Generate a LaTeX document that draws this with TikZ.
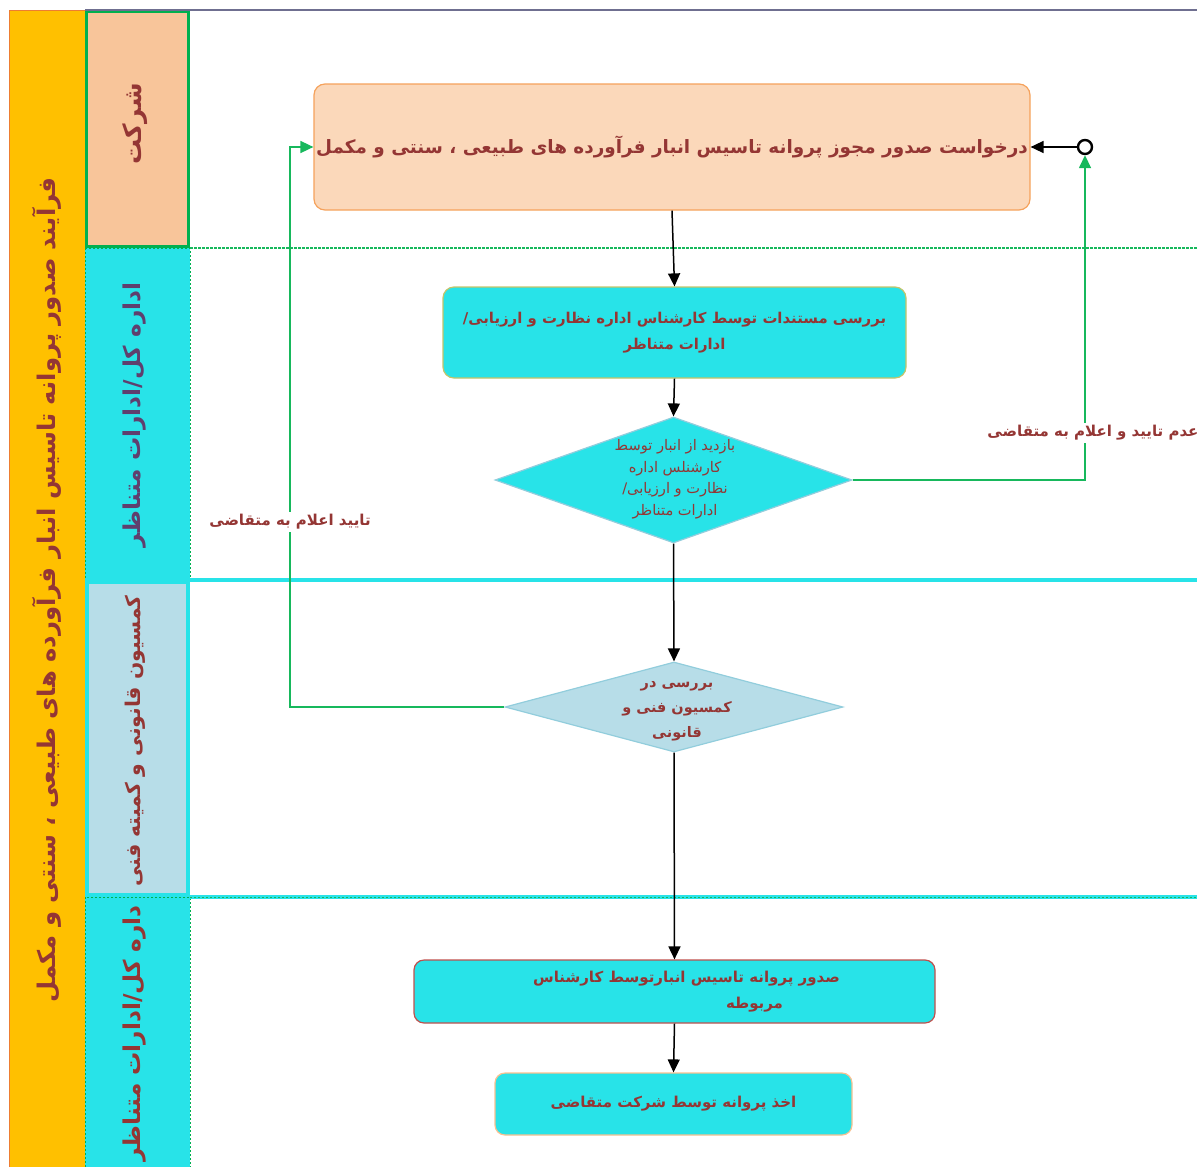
\documentclass[tikz,border=0pt]{standalone}
\usepackage{fontspec}
\usetikzlibrary{arrows.meta,shapes.geometric}
\TeXXeTstate=1
\newfontfamily\arabicfont[Script=Arabic]{DejaVu Sans}
\newcommand\fa[1]{{\arabicfont\beginR #1\endR}}
\definecolor{txtred}{HTML}{943634}
\definecolor{lanepurple}{HTML}{5F3F6E}
\definecolor{cyanf}{HTML}{28E3E8}
\definecolor{yel}{HTML}{FFC000}
\definecolor{orangeb}{HTML}{ED7D31}
\definecolor{peachlane}{HTML}{F8C59A}
\definecolor{peachbox}{HTML}{FBD8BA}
\definecolor{peachborder}{HTML}{F5A25C}
\definecolor{lblue}{HTML}{B7DDE8}
\definecolor{lblueb}{HTML}{92CDDC}
\definecolor{grnlane}{HTML}{00B050}
\definecolor{grnline}{HTML}{17B85C}
\definecolor{topline}{HTML}{6F6F90}
\definecolor{oliveb}{HTML}{C4C46A}
\definecolor{redb}{HTML}{C0504D}
\definecolor{lorange}{HTML}{FAC090}
\tikzset{
  blk/.style={draw=black, line width=1.5pt, -{Triangle[width=12pt,length=13pt]}},
  grn/.style={draw=grnline, line width=1.6pt, -{Triangle[width=12pt,length=13pt]}},
  proc/.style={rectangle, rounded corners=11pt, line width=1.2pt, inner sep=0pt, text=txtred, align=center},
  dec/.style={diamond, line width=1.2pt, inner sep=0pt},
  dectext/.style={inner sep=0pt, text=txtred, align=center},
  lanelbl/.style={rotate=90, inner sep=0pt},
  lbl/.style={fill=white, inner sep=2pt, text=txtred, font=\arabicfont\bfseries\fontsize{15pt}{18pt}\selectfont}
}
\begin{document}
\begin{tikzpicture}[x=1pt,y=-1pt]
\useasboundingbox (0,0) rectangle (1197,1167);
\begin{scope}
\clip (0,0) rectangle (1197,1167);
% outer pool column
\fill[yel] (9,10) rectangle (85,1167);
\draw[orangeb, line width=1pt] (9,1167) -- (9,10) -- (85,10);
% lanes
\fill[peachlane] (85,10) rectangle (190,248);
\fill[cyanf] (85,248) rectangle (190,580);
\fill[lblue] (85,580) rectangle (190,897);
\fill[cyanf] (85,897) rectangle (190,1167);
\draw[grnlane, line width=0.9pt, dash pattern=on 2pt off 2pt] (85,248) rectangle (190,580);
\draw[grnlane, line width=0.9pt, dash pattern=on 2pt off 2pt] (85,897) rectangle (190,1170);
\draw[cyanf, line width=4pt] (87,582) rectangle (188,895);
\draw[grnlane, line width=3.2pt] (86.6,11.6) rectangle (188.4,246.4);
% swimlane separators
\draw[topline, line width=2pt] (85,10) -- (1197,10);
\draw[grnline, line width=1.4pt, dash pattern=on 3pt off 1pt] (190,248) -- (1197,248);
\draw[cyanf, line width=4pt] (190,580) -- (1197,580);
\draw[cyanf, line width=4pt] (190,897) -- (1197,897);
\draw[grnline, line width=1pt, dash pattern=on 2pt off 2pt] (190,897) -- (1197,897);
% lane labels
\node[lanelbl, text=txtred, font=\arabicfont\bfseries\fontsize{24.3pt}{28pt}\selectfont] (pool) at (47,590) {\fa{فرآیند صدور پروانه تاسیس انبار فرآورده های طبیعی ، سنتی و مکمل}};
\node[lanelbl, text=txtred, font=\arabicfont\bfseries\fontsize{25pt}{29pt}\selectfont] (lane1) at (135,124) {\fa{شرکت}};
\node[lanelbl, text=lanepurple, font=\arabicfont\bfseries\fontsize{23.2pt}{27pt}\selectfont] (lane2) at (135,415) {\fa{اداره کل/ادارات متناظر}};
\node[lanelbl, text=txtred, font=\arabicfont\bfseries\fontsize{20.3pt}{24pt}\selectfont] (lane3) at (135,741) {\fa{کمسیون قانونی و کمیته فنی}};
\node[lanelbl, text=txtred, anchor=east, font=\arabicfont\bfseries\fontsize{23.2pt}{27pt}\selectfont] (lane4) at (135,905) {\fa{داره کل/ادارات متناظر}};
% process nodes
\node[proc, fill=peachbox, draw=peachborder, minimum width=716pt, minimum height=126pt,
  font=\arabicfont\bfseries\fontsize{18.4pt}{22pt}\selectfont] (n1) at (672,147)
  {\fa{درخواست صدور مجوز پروانه تاسیس انبار فرآورده های طبیعی ، سنتی و مکمل}};
\node[proc, fill=cyanf, draw=oliveb, minimum width=463pt, minimum height=91pt,
  font=\arabicfont\bfseries\fontsize{14.9pt}{26pt}\selectfont] (n2) at (674.5,332.5)
  {\fa{بررسی مستندات توسط کارشناس اداره نظارت و ارزیابی/}\\\fa{ادارات متناظر}};
\node[dec, fill=cyanf, draw=lblueb, minimum width=357pt, minimum height=126pt] (d1) at (673.5,480) {};
\node[dectext, font=\arabicfont\fontsize{14.6pt}{21.5pt}\selectfont] (d1t) at (675,479)
  {\fa{بازدید از انبار توسط}\\\fa{کارشنلس اداره}\\\fa{نظارت و ارزیابی/}\\\fa{ادارات متناظر}};
\node[dec, fill=lblue, draw=lblueb, minimum width=338pt, minimum height=90pt] (d2) at (674,707) {};
\node[dectext, font=\arabicfont\bfseries\fontsize{14.5pt}{25pt}\selectfont] (d2t) at (677,711)
  {\fa{بررسی در}\\\fa{کمسیون فنی و}\\\fa{قانونی}};
\node[proc, rounded corners=10pt, fill=cyanf, draw=redb, minimum width=521pt, minimum height=63pt,
  font=\arabicfont\bfseries\fontsize{15pt}{26pt}\selectfont] (n3) at (674.5,991.5)
  {\hspace*{24pt}\fa{صدور پروانه تاسیس انبارتوسط کارشناس}\\\hspace*{160pt}\fa{مربوطه}};
\node[proc, rounded corners=10pt, fill=cyanf, draw=lorange, minimum width=357pt, minimum height=62pt,
  font=\arabicfont\bfseries\fontsize{15pt}{19pt}\selectfont] (n4) at (673.5,1104)
  {\fa{اخذ پروانه توسط شرکت متقاضی}};
% start/return circle
\node[circle, draw=black, line width=2.4pt, fill=white, minimum size=14pt, inner sep=0pt] (c) at (1085,147) {};
\coordinate (g2) at (290,707);
% connectors
\draw[blk] (c.west) -- (n1.east);
\draw[blk] (n1.south) -- (n2.north);
\draw[blk] (n2.south) -- (d1.north);
\draw[blk] (d1.south) -- (d2.north);
\draw[blk] (d2.south) -- (n3.north);
\draw[blk] (n3.south) -- (n4.north);
\draw[grn] (d1.east) -| (c.south);
\draw[grn] (d2.west) -- (g2) |- (n1.west);
% connector labels
\node[lbl] (l1) at (1093,433) {\fa{عدم تایید و اعلام به متقاضی}};
\node[lbl] (l2) at (290,522) {\fa{تایید اعلام به متقاضی}};
\end{scope}
\end{tikzpicture}
\end{document}
